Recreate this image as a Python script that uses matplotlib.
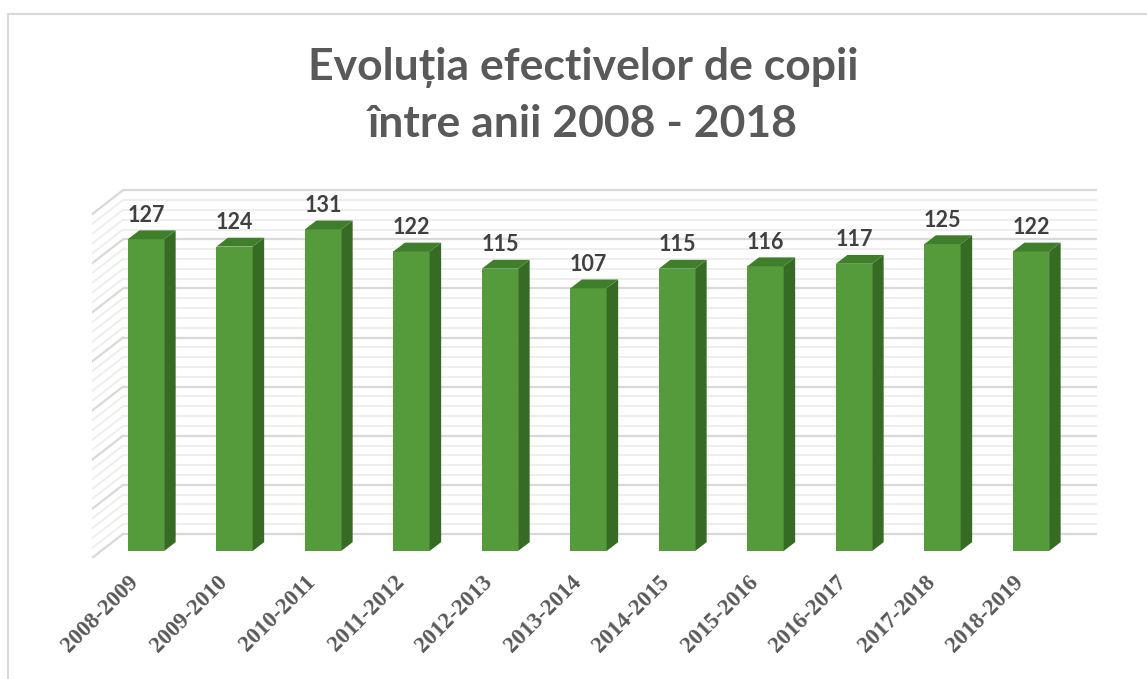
import matplotlib.pyplot as plt
from matplotlib.lines import Line2D
import numpy as np

# date
ani = ["2008-2009", "2009-2010", "2010-2011", "2011-2012", "2012-2013", "2013-2014",
       "2014-2015", "2015-2016", "2016-2017", "2017-2018", "2018-2019"]
copii = [127, 124, 131, 122, 115, 107, 115, 116, 117, 125, 122]
titlu = ["Evoluția efectivelor de copii", "între anii 2008 - 2018"]
vmax, major, minor = 140, 20, 4

W, H = 1147, 679
fig = plt.figure(figsize=(W / 100, H / 100), dpi=100)

# axes box in pixels, scale: 88.5 px per category, 2.455 px per unit
left, right, bot, top = 92, 1100, 558, 185
px_x, px_v, x0, base = 88.5, 2.455, 146, 551
ax = fig.add_axes([left / W, 1 - bot / H, (right - left) / W, (bot - top) / H])
ax.set_xlim((left - x0) / px_x, (right - x0) / px_x)
ax.set_ylim((base - bot) / px_v, (base - top) / px_v)

# fake 3d: depth of floor, bars sit at f0 of it
DX, DY = 0.35, 9.78
f0 = 0.29
bx, by = (1 - f0) * DX, (1 - f0) * DY
xl, xr = -0.26, 10.75

for v in np.arange(0, vmax + 1, minor):
    if v % major == 0:
        c, lw = "#d9d9d9", 1.6
    else:
        c, lw = "#eeeeee", 1.4
    ax.plot([xl, xr], [v + by, v + by], color=c, lw=lw, zorder=1, solid_capstyle="butt")
    ax.plot([xl - DX, xl], [v + by - DY, v + by], color=c, lw=lw, zorder=1)

# bars
x = np.arange(len(copii))
w = 0.41
dx, dy = 0.13, 3.6
ax.bar(x, copii, width=w, color="#559b3b", zorder=3)
for i, v in zip(x, copii):
    r = i + w / 2
    l = i - w / 2
    ax.fill([r, r + dx, r + dx, r], [0, dy, v + dy, v], color="#356b23", zorder=3, lw=0)
    ax.fill([l, l + dx, r + dx, r], [v, v + dy, v + dy, v], color="#3f7f2b", zorder=3, lw=0)
    ax.annotate(str(v), (i, v), xytext=(0, 12.5), textcoords="offset points",
                ha="center", va="baseline", fontsize=15.5, fontweight="bold",
                color="#404040", family="Lato", zorder=4)

# labels a bit left of the bar centre, like in Excel
ax.tick_params(axis="x", length=0, pad=10)
ax.set_xticks(x - 18 / px_x, ani, rotation=45, ha="right", rotation_mode="anchor",
              family="Liberation Serif", fontweight="bold", fontsize=16.5, color="#595959")
ax.set_yticks([])
for s in ax.spines.values():
    s.set_visible(False)
ax.patch.set_alpha(0)

# titlu
fig.text(583 / W, 1 - 80 / H, titlu[0], ha="center", va="baseline", fontsize=32,
         fontweight="bold", color="#595959", family="Lato")
fig.text(583 / W, 1 - 137 / H, titlu[1], ha="center", va="baseline", fontsize=32,
         fontweight="bold", color="#595959", family="Lato")

# chenar
fig.add_artist(Line2D([8 / W, 8 / W], [0, 1 - 14 / H], transform=fig.transFigure, color="#d9d9d9", lw=1.5))
fig.add_artist(Line2D([8 / W, 1], [1 - 14 / H, 1 - 14 / H], transform=fig.transFigure, color="#d9d9d9", lw=1.5))

fig.savefig("out.png", dpi=100)
